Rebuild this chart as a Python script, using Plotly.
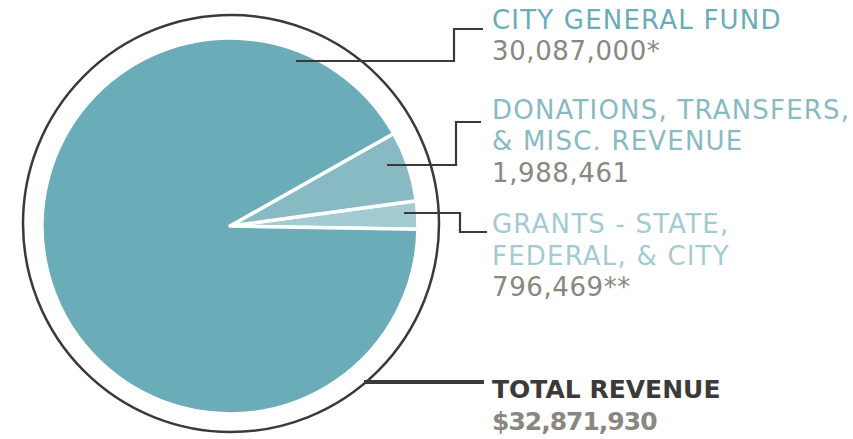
import plotly.graph_objects as go

W, H = 853, 439

categories = ["GRANTS - STATE, FEDERAL, & CITY", "DONATIONS, TRANSFERS, & MISC. REVENUE", "CITY GENERAL FUND"]
values = [796469, 1988461, 30087000]
slice_colors = ["#a3cbd2", "#88bac4", "#6aacb8"]

label_lines = [
    ["CITY GENERAL FUND"],
    ["DONATIONS, TRANSFERS,", "& MISC. REVENUE"],
    ["GRANTS - STATE,", "FEDERAL, & CITY"],
]
value_texts = ["30,087,000*", "1,988,461", "796,469**"]
total_label = "TOTAL REVENUE"
total_value = "$32,871,930"

def px(x):
    return x / W

def py(y):
    return 1 - y / H

cx, cy, r = 230, 226, 188

fig = go.Figure()
fig.add_trace(go.Pie(
    labels=categories, values=values, sort=False, direction="counterclockwise",
    rotation=82.3, textinfo="none", hoverinfo="label+value",
    marker=dict(colors=slice_colors, line=dict(color="white", width=3.5)),
    domain=dict(x=[px(cx - r), px(cx + r)], y=[py(cy + r), py(cy - r)]),
    showlegend=False,
))

dark = "#3d3939"
shapes = [
    dict(type="circle", xref="paper", yref="paper",
         x0=px(23), x1=px(439), y0=py(432), y1=py(15),
         line=dict(color=dark, width=2.5)),
]
leaders = [
    [(296, 61), (454, 61), (454, 29), (483, 29)],
    [(387, 165), (456, 165), (456, 122), (481, 122)],
    [(404, 213), (460, 213), (460, 232), (487, 232)],
]
for pts in leaders:
    path = "M " + " L ".join(f"{px(x)},{py(y)}" for x, y in pts)
    shapes.append(dict(type="path", xref="paper", yref="paper", path=path,
                       line=dict(color=dark, width=2.2)))
shapes.append(dict(type="line", xref="paper", yref="paper",
                   x0=px(364), x1=px(484), y0=py(382), y1=py(382),
                   line=dict(color=dark, width=4)))

font_family = "DejaVu Sans, sans-serif"
annotations = []
def add_text(txt, ymid, color, bold=False, size=26, spacing=1.2):
    t = f'<span style="letter-spacing:{spacing}px">{txt}</span>'
    if bold:
        t = f"<b>{t}</b>"
    annotations.append(dict(text=t, x=px(490), y=py(ymid), xref="paper", yref="paper",
                            xanchor="left", yanchor="middle", showarrow=False,
                            font=dict(family=font_family, size=size, color=color)))

label_colors = ["#6aacb8", "#88bac4", "#a3cbd2"]
value_color = "#8a8680"
line_y = [[19.5, 51.5], [109.5, 140.5, 173], [223.5, 255.5, 287]]
for i in range(3):
    ys = line_y[i]
    for j, ln in enumerate(label_lines[i]):
        add_text(ln, ys[j], label_colors[i])
    add_text(value_texts[i], ys[-1], value_color, spacing=0.6)
add_text(total_label, 389, dark, bold=True, size=25, spacing=0)
add_text(total_value, 421, value_color, bold=True, size=25, spacing=-1)

fig.update_layout(width=W, height=H, margin=dict(l=0, r=0, t=0, b=0),
                  paper_bgcolor="white", plot_bgcolor="white",
                  shapes=shapes, annotations=annotations)
fig.write_html("out.html", config={"displayModeBar": False},
               post_script="document.body.style.margin='0';")
